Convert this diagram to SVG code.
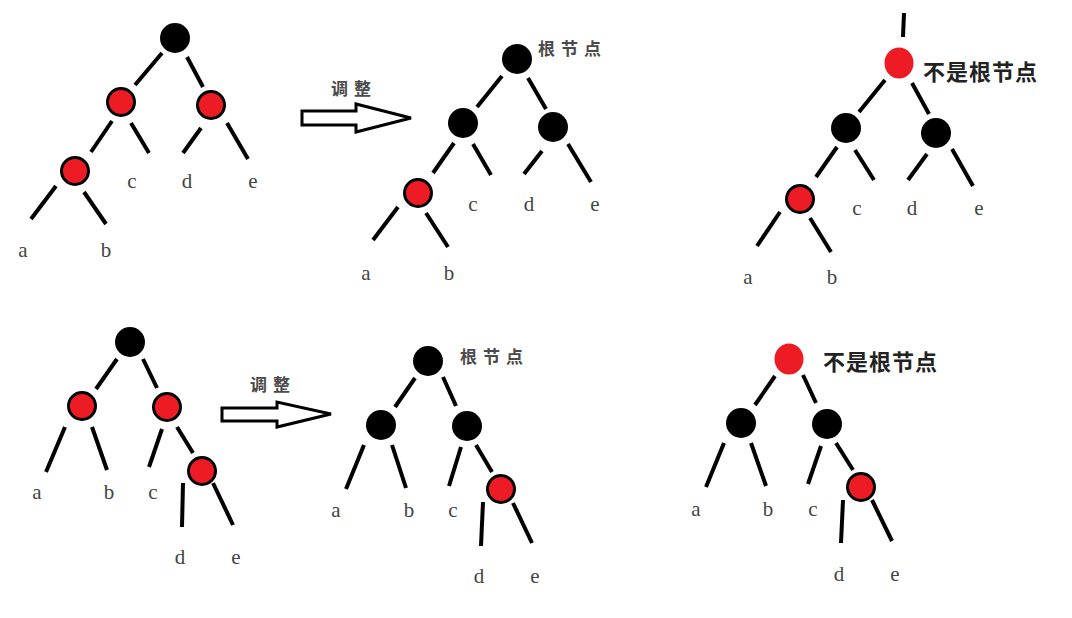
<svg xmlns="http://www.w3.org/2000/svg" width="1072" height="618" viewBox="0 0 1072 618">
<style>
.e{stroke:#000;stroke-width:4;stroke-linecap:butt;fill:none}
.b{fill:#000}
.r{fill:#ED1C24;stroke:#000;stroke-width:3}
.rn{fill:#ED1C24}
.lb{font-family:"Liberation Serif",serif;font-size:21px;fill:#444;text-anchor:middle}
.cj{font-family:"Noto Sans CJK SC",sans-serif;font-size:17px;font-weight:bold;fill:#4a4a4a;letter-spacing:6px}
.bd{font-family:"Noto Sans CJK SC",sans-serif;font-size:22px;font-weight:bold;fill:#222;letter-spacing:1px}
.ar{fill:#fff;stroke:#000;stroke-width:3;stroke-linejoin:miter}
</style>
<rect width="1072" height="618" fill="#fff"/>
<g id="connectors">
<line class="e" x1="162" y1="53" x2="135" y2="85"/>
<line class="e" x1="187" y1="57" x2="203" y2="87"/>
<line class="e" x1="112" y1="121" x2="91" y2="152"/>
<line class="e" x1="131" y1="123" x2="149" y2="153"/>
<line class="e" x1="201" y1="128" x2="183" y2="153"/>
<line class="e" x1="227" y1="123" x2="248" y2="159"/>
<line class="e" x1="56" y1="186" x2="31" y2="219"/>
<line class="e" x1="84" y1="192" x2="106" y2="224"/>
<line class="e" x1="502" y1="76" x2="477" y2="107"/>
<line class="e" x1="528" y1="78" x2="546" y2="109"/>
<line class="e" x1="454" y1="143" x2="433" y2="173"/>
<line class="e" x1="473" y1="144" x2="491" y2="175"/>
<line class="e" x1="542" y1="151" x2="524" y2="174"/>
<line class="e" x1="568" y1="144" x2="591" y2="182"/>
<line class="e" x1="398" y1="207" x2="373" y2="240"/>
<line class="e" x1="426" y1="213" x2="448" y2="247"/>
<line class="e" x1="904" y1="13" x2="903" y2="37"/>
<line class="e" x1="885" y1="80" x2="859" y2="112"/>
<line class="e" x1="912" y1="83" x2="929" y2="114"/>
<line class="e" x1="837" y1="147" x2="816" y2="177"/>
<line class="e" x1="855" y1="150" x2="874" y2="180"/>
<line class="e" x1="927" y1="154" x2="908" y2="180"/>
<line class="e" x1="952" y1="149" x2="973" y2="186"/>
<line class="e" x1="780" y1="212" x2="757" y2="246"/>
<line class="e" x1="810" y1="218" x2="831" y2="252"/>
<line class="e" x1="117" y1="359" x2="96" y2="389"/>
<line class="e" x1="143" y1="359" x2="157" y2="388"/>
<line class="e" x1="65" y1="427" x2="46" y2="472"/>
<line class="e" x1="92" y1="427" x2="107" y2="470"/>
<line class="e" x1="162" y1="429" x2="149" y2="467"/>
<line class="e" x1="177" y1="427" x2="193" y2="453"/>
<line class="e" x1="183" y1="483" x2="182" y2="527"/>
<line class="e" x1="213" y1="483" x2="233" y2="525"/>
<line class="e" x1="415" y1="378" x2="395" y2="407"/>
<line class="e" x1="443" y1="377" x2="456" y2="406"/>
<line class="e" x1="364" y1="445" x2="346" y2="489"/>
<line class="e" x1="392" y1="445" x2="406" y2="488"/>
<line class="e" x1="461" y1="447" x2="449" y2="486"/>
<line class="e" x1="476" y1="445" x2="492" y2="472"/>
<line class="e" x1="483" y1="502" x2="481" y2="546"/>
<line class="e" x1="513" y1="503" x2="532" y2="543"/>
<line class="e" x1="775" y1="376" x2="755" y2="405"/>
<line class="e" x1="803" y1="375" x2="816" y2="403"/>
<line class="e" x1="724" y1="443" x2="706" y2="487"/>
<line class="e" x1="751" y1="443" x2="766" y2="486"/>
<line class="e" x1="821" y1="446" x2="808" y2="484"/>
<line class="e" x1="836" y1="443" x2="853" y2="470"/>
<line class="e" x1="843" y1="500" x2="841" y2="543"/>
<line class="e" x1="872" y1="500" x2="892" y2="541"/>
</g>
<g id="arrow1"><polygon class="ar" points="302,111 356,111 356,104 411,118 356,132 356,125 302,125"/></g>
<g id="arrow2"><polygon class="ar" points="222,408 277,408 277,402 331,414 277,427 277,421 222,421"/></g>
<g id="t1-root"><circle class="b" cx="175" cy="38" r="15"/></g>
<g id="t1-l"><circle class="r" cx="121" cy="102" r="13.5"/></g>
<g id="t1-r"><circle class="r" cx="211" cy="105" r="13.5"/></g>
<g id="t1-ll"><circle class="r" cx="75" cy="171" r="13.5"/></g>
<g id="t2-root"><circle class="b" cx="517" cy="59" r="15"/></g>
<g id="t2-l"><circle class="b" cx="463" cy="123" r="15"/></g>
<g id="t2-r"><circle class="b" cx="553" cy="127" r="15"/></g>
<g id="t2-ll"><circle class="r" cx="418" cy="193" r="13.5"/></g>
<g id="t3-root"><ellipse class="rn" cx="899" cy="63" rx="14.5" ry="15.5"/></g>
<g id="t3-l"><circle class="b" cx="846" cy="128" r="15"/></g>
<g id="t3-r"><circle class="b" cx="936" cy="133" r="15"/></g>
<g id="t3-ll"><circle class="r" cx="800" cy="199" r="13.5"/></g>
<g id="t4-root"><circle class="b" cx="130" cy="342" r="15"/></g>
<g id="t4-l"><circle class="r" cx="82" cy="406" r="13.5"/></g>
<g id="t4-r"><circle class="r" cx="167" cy="407" r="13.5"/></g>
<g id="t4-rr"><circle class="r" cx="202" cy="471" r="13.5"/></g>
<g id="t5-root"><circle class="b" cx="428" cy="361" r="15"/></g>
<g id="t5-l"><circle class="b" cx="381" cy="425" r="15"/></g>
<g id="t5-r"><circle class="b" cx="467" cy="426" r="15"/></g>
<g id="t5-rr"><circle class="r" cx="501" cy="489" r="13.5"/></g>
<g id="t6-root"><ellipse class="rn" cx="789" cy="359" rx="14.5" ry="15.5"/></g>
<g id="t6-l"><circle class="b" cx="741" cy="423" r="15"/></g>
<g id="t6-r"><circle class="b" cx="827" cy="424" r="15"/></g>
<g id="t6-rr"><circle class="r" cx="861" cy="487" r="13.5"/></g>
<g id="labels">
<text class="lb" x="132" y="188">c</text><text class="lb" x="187" y="188">d</text><text class="lb" x="253" y="188">e</text>
<text class="lb" x="23" y="257">a</text><text class="lb" x="106" y="257">b</text>
<text class="lb" x="473" y="211">c</text><text class="lb" x="529" y="211">d</text><text class="lb" x="595" y="211">e</text>
<text class="lb" x="366" y="280">a</text><text class="lb" x="449" y="280">b</text>
<text class="lb" x="857" y="215">c</text><text class="lb" x="912" y="215">d</text><text class="lb" x="979" y="215">e</text>
<text class="lb" x="748" y="284">a</text><text class="lb" x="832" y="284">b</text>
<text class="lb" x="37" y="499">a</text><text class="lb" x="109" y="499">b</text><text class="lb" x="153" y="499">c</text>
<text class="lb" x="180" y="564">d</text><text class="lb" x="236" y="564">e</text>
<text class="lb" x="336" y="517">a</text><text class="lb" x="409" y="517">b</text><text class="lb" x="453" y="517">c</text>
<text class="lb" x="479" y="583">d</text><text class="lb" x="535" y="583">e</text>
<text class="lb" x="696" y="516">a</text><text class="lb" x="768" y="516">b</text><text class="lb" x="813" y="516">c</text>
<text class="lb" x="839" y="581">d</text><text class="lb" x="895" y="581">e</text>
<text class="cj" x="331" y="95">调整</text>
<text class="cj" x="250" y="391">调整</text>
<text class="cj" x="538" y="55">根节点</text>
<text class="cj" x="460" y="363">根节点</text>
<text class="bd" x="923" y="80">不是根节点</text>
<text class="bd" x="823" y="370">不是根节点</text>
</g>
</svg>
